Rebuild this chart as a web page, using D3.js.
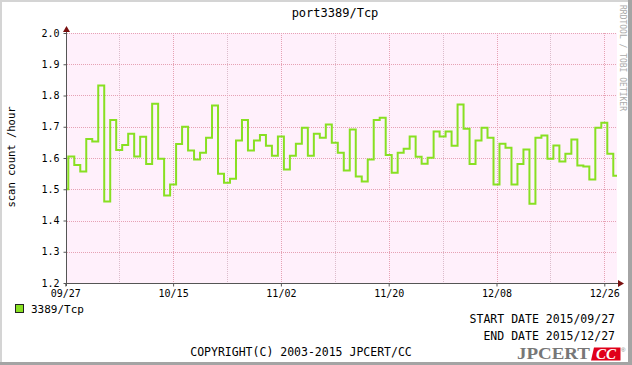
<!DOCTYPE html>
<html>
<head>
<meta charset="utf-8">
<script src="https://cdn.jsdelivr.net/npm/d3@7"></script>
<style>
  html, body { margin: 0; padding: 0; background: #fff; }
  svg { display: block; }
  text { font-family: "DejaVu Sans Mono", monospace; fill: #000; }
</style>
</head>
<body>
<svg id="chart" width="632" height="365"></svg>
<script>
// daily scan counts, each value covers one day starting at firstStep + i days
var firstStep = new Date(2015, 8, 26, 12);
var values = [
  1.50, 1.605, 1.578, 1.557, 1.661, 1.653, 1.832, 1.461, 1.722, 1.626,
  1.642, 1.678, 1.605, 1.668, 1.581, 1.774, 1.598, 1.480, 1.515, 1.645,
  1.700, 1.624, 1.595, 1.617, 1.665, 1.768, 1.550, 1.521, 1.534, 1.656,
  1.722, 1.624, 1.656, 1.674, 1.639, 1.607, 1.669, 1.563, 1.607, 1.646,
  1.697, 1.607, 1.678, 1.665, 1.707, 1.649, 1.617, 1.560, 1.691, 1.541,
  1.525, 1.595, 1.722, 1.729, 1.610, 1.553, 1.617, 1.630, 1.669, 1.604,
  1.582, 1.601, 1.685, 1.669, 1.685, 1.639, 1.771, 1.694, 1.581, 1.656,
  1.697, 1.665, 1.515, 1.646, 1.633, 1.515, 1.581, 1.627, 1.454, 1.665,
  1.672, 1.598, 1.640, 1.589, 1.614, 1.659, 1.576, 1.573, 1.531, 1.697,
  1.713, 1.614, 1.543
];
var xTickLabels = ["09/27", "10/15", "11/02", "11/20", "12/08", "12/26"];
var yTicks = [1.2, 1.3, 1.4, 1.5, 1.6, 1.7, 1.8, 1.9, 2.0];
var seriesName = "3389/Tcp";
var title = "port3389/Tcp";
var startLabel = "START DATE 2015/09/27";
var endLabel = "END DATE 2015/12/27";

var svg = d3.select('#chart');
var W = 632, H = 365;
// note: "top" is taken by window.top, so prefix these
var pLeft = 67, pRight = 617, pTop = 33, pBottom = 283;

// frame
svg.append('rect').attr('width', W).attr('height', H).attr('fill', '#a4a4a4');
svg.append('rect').attr('width', W - 4).attr('height', H - 3).attr('fill', '#d4d4d4');
svg.append('rect').attr('x', 2).attr('y', 2).attr('width', W - 6).attr('height', H - 5).attr('fill', '#fff');

var parseDay = d3.timeParse('%Y/%m/%d');
var majorDates = xTickLabels.map(function(s) { return parseDay('2015/' + s); });
var minorDates = majorDates.map(function(d) { return d3.timeDay.offset(d, 9); });

var x = d3.scaleTime()
  .domain([new Date(2015, 8, 27, 6, 49), new Date(2015, 11, 28, 2, 53)])
  .range([pLeft, pRight]);
var y = d3.scaleLinear().domain([1.2, 2.0]).range([pBottom, pTop]);

// plot background
svg.append('rect').attr('x', pLeft).attr('y', pTop)
  .attr('width', pRight - pLeft).attr('height', pBottom - pTop)
  .attr('fill', '#fff0fb');

svg.append('clipPath').attr('id', 'clip')
  .append('rect').attr('x', pLeft).attr('y', pTop - 2)
  .attr('width', pRight - pLeft).attr('height', pBottom - pTop + 4);

var grid = svg.append('g').attr('clip-path', 'url(#clip)');
grid.selectAll('.vminor').data(minorDates).enter().append('line')
  .attr('x1', function(d) { return Math.round(x(d)) + 0.5; })
  .attr('x2', function(d) { return Math.round(x(d)) + 0.5; })
  .attr('y1', pTop).attr('y2', pBottom)
  .attr('stroke', '#dcbccb').attr('stroke-dasharray', '1,1');
grid.selectAll('.vmajor').data(majorDates).enter().append('line')
  .attr('x1', function(d) { return Math.round(x(d)) + 0.5; })
  .attr('x2', function(d) { return Math.round(x(d)) + 0.5; })
  .attr('y1', pTop).attr('y2', pBottom)
  .attr('stroke', '#e6a2b4').attr('stroke-dasharray', '1,1');
grid.selectAll('.hmajor').data(yTicks.slice(1)).enter().append('line')
  .attr('x1', pLeft).attr('x2', pRight)
  .attr('y1', function(d) { return Math.round(y(d)) + 0.5; })
  .attr('y2', function(d) { return Math.round(y(d)) + 0.5; })
  .attr('stroke', '#e6a2b4').attr('stroke-dasharray', '1,1');

// step line
var points = values.map(function(v, i) { return [d3.timeDay.offset(firstStep, i), v]; });
points.push([d3.timeDay.offset(firstStep, values.length), values[values.length - 1]]);
var line = d3.line()
  .x(function(d) { return x(d[0]); })
  .y(function(d) { return y(d[1]); })
  .curve(d3.curveStepAfter);
svg.append('g').attr('clip-path', 'url(#clip)')
  .append('path').datum(points)
  .attr('d', line)
  .attr('fill', 'none')
  .attr('stroke', '#88e022')
  .attr('stroke-width', 2)
  .attr('stroke-linejoin', 'miter');

// axes
var yAxis = d3.axisLeft(y).tickValues(yTicks).tickFormat(d3.format('.1f'))
  .tickSize(3).tickPadding(4);
var gy = svg.append('g').attr('transform', 'translate(' + (pLeft - 0.5) + ',0)').call(yAxis);
var xAxis = d3.axisBottom(x).tickValues(majorDates).tickFormat(d3.timeFormat('%m/%d'))
  .tickSize(3).tickPadding(3);
var gx = svg.append('g').attr('transform', 'translate(0,' + (pBottom + 0.5) + ')').call(xAxis);
[gx, gy].forEach(function(g) {
  g.select('.domain').remove();
  g.selectAll('.tick line').attr('stroke', '#555');
  g.selectAll('.tick text').attr('font-family', '"DejaVu Sans Mono", monospace')
    .attr('font-size', 10).attr('fill', '#000');
});

svg.append('line').attr('x1', pLeft - 3).attr('x2', pRight + 3)
  .attr('y1', pBottom + 0.5).attr('y2', pBottom + 0.5).attr('stroke', '#555');
svg.append('line').attr('x1', pLeft - 0.5).attr('x2', pLeft - 0.5)
  .attr('y1', pBottom + 3).attr('y2', pTop - 3).attr('stroke', '#555');
svg.append('path')
  .attr('d', 'M' + (pRight + 7) + ',' + (pBottom + 0.5) + 'l-6,-3.5v7z')
  .attr('fill', '#7a1010');
svg.append('path')
  .attr('d', 'M' + (pLeft - 0.5) + ',' + (pTop - 7) + 'l-3.5,6h7z')
  .attr('fill', '#7a1010');

// titles
svg.append('text').attr('x', 335).attr('y', 17).attr('text-anchor', 'middle')
  .attr('font-size', 12).text(title);
svg.append('text').attr('transform', 'translate(15,157) rotate(-90)')
  .attr('text-anchor', 'middle').attr('font-size', 10.5).text('scan count /hour');
svg.append('text').attr('transform', 'translate(620,5) rotate(90)')
  .attr('font-size', 8).style('fill', '#aaa').text('RRDTOOL / TOBI OETIKER');

// legend
svg.append('rect').attr('x', 15.5).attr('y', 304.5).attr('width', 8).attr('height', 8)
  .attr('fill', '#88e022').attr('stroke', '#222');
svg.append('text').attr('x', 31).attr('y', 313).attr('font-size', 11).text(seriesName);

svg.append('text').attr('x', 615).attr('y', 323).attr('text-anchor', 'end')
  .attr('font-size', 11.5).text(startLabel);
svg.append('text').attr('x', 615).attr('y', 340).attr('text-anchor', 'end')
  .attr('font-size', 11.5).text(endLabel);
svg.append('text').attr('x', 301).attr('y', 356).attr('text-anchor', 'middle')
  .attr('font-size', 11.5).text('COPYRIGHT(C) 2003-2015 JPCERT/CC');

// logo
var logo = svg.append('g');
logo.append('text').attr('x', 517).attr('y', 359)
  .attr('textLength', 73).attr('lengthAdjust', 'spacingAndGlyphs')
  .style('font-family', '"Liberation Serif", serif').style('font-weight', 'bold')
  .style('font-size', '16px').style('fill', '#777').text('JPCERT');
logo.append('path').attr('d', 'M594,347.5H620.5V360.5H591z').attr('fill', '#e0001a');
logo.append('text').attr('x', 606).attr('y', 358.5).attr('text-anchor', 'middle')
  .style('font-family', '"Liberation Serif", serif').style('font-weight', 'bold')
  .style('font-style', 'italic').style('font-size', '15px').style('fill', '#fff').text('CC');
logo.append('text').attr('x', 621).attr('y', 352)
  .style('font-family', '"Liberation Sans", sans-serif').style('font-size', '6px')
  .style('fill', '#777').text('\u00ae');
</script>
</body>
</html>
